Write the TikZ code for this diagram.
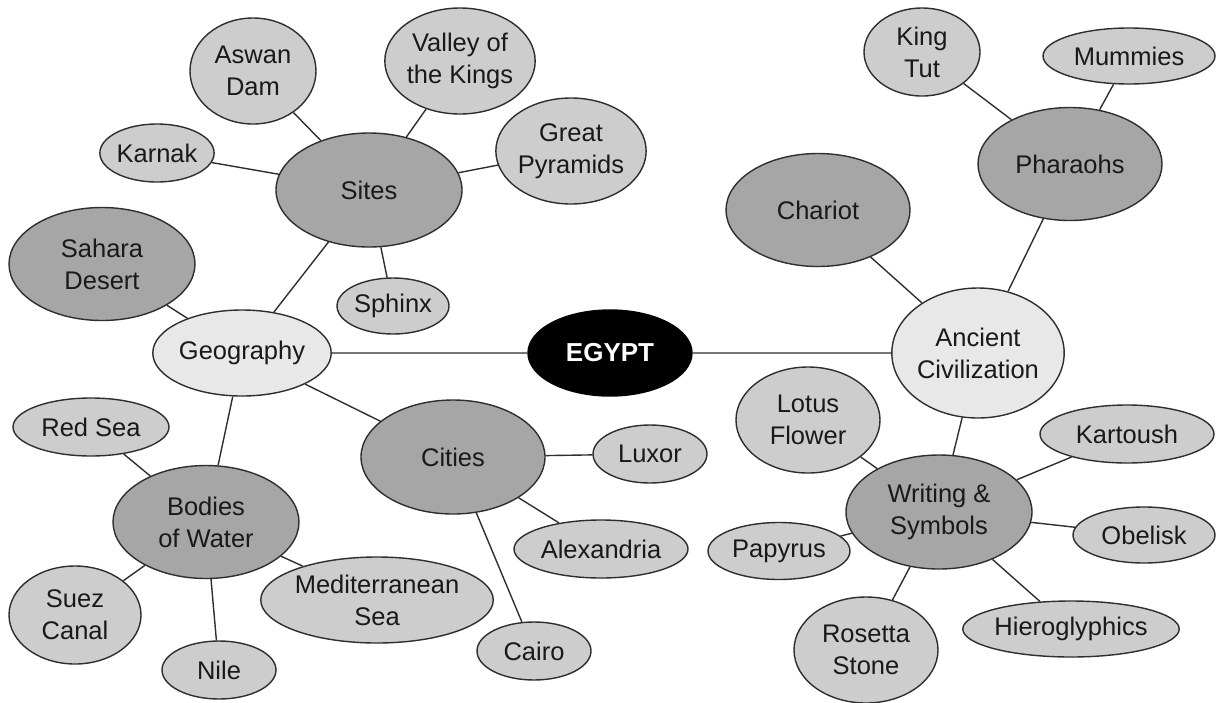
\documentclass[tikz,border=0pt]{standalone}
\usepackage{fontspec}
\setmainfont{Liberation Sans}
\usetikzlibrary{shapes.geometric}
\definecolor{hubdark}{HTML}{A6A6A6}
\definecolor{leafmid}{HTML}{CDCDCD}
\definecolor{branchlight}{HTML}{E8E8E8}
\definecolor{inkline}{HTML}{2E2E2E}
\tikzset{
  bub/.style={ellipse, draw=inkline, line width=1.4pt, inner sep=0pt, align=center,
    text=black!90, font=\fontsize{25.5}{32}\selectfont},
  sz/.style 2 args={minimum width=#1pt, minimum height=#2pt},
  hub/.style={bub, fill=hubdark},
  leaf/.style={bub, fill=leafmid},
  branch/.style={bub, fill=branchlight},
  core/.style={bub, fill=black, draw=black, text=white, font=\fontsize{26}{32}\selectfont\bfseries},
  link/.style={draw=inkline, line width=1.4pt}
}
\begin{document}
\begin{tikzpicture}[x=1pt,y=-1pt]
\useasboundingbox (0,0) rectangle (1218,702);

% centre and main branches
\node[core, sz={164}{86}] (egypt) at (610,353) {EGYPT};
\node[branch, sz={164}{86}] (geo) at (242,353) {Geography};
\node[branch, sz={164}{130}] (anc) at (978,353) {Ancient\\Civilization};

% geography side
\node[hub, sz={186}{114}] (sites) at (369,190) {Sites};
\node[leaf, sz={126}{106}] (aswan) at (253,71) {Aswan\\Dam};
\node[leaf, sz={144}{106}] (valley) at (460,61) {Valley of\\the Kings};
\node[leaf, sz={114}{58}] (karnak) at (157,153) {Karnak};
\node[leaf, sz={142}{106}] (pyr) at (571,151) {Great\\Pyramids};
\node[leaf, sz={112}{56}] (sphinx) at (393,306) {Sphinx};
\node[hub, sz={186}{113}] (sahara) at (102,264) {Sahara\\Desert};

\node[hub, sz={186}{113}] (water) at (206,522) {Bodies\\of Water};
\node[leaf, sz={156}{58}] (red) at (91,427) {Red Sea};
\node[leaf, sz={132}{98}] (suez) at (75,615) {Suez\\Canal};
\node[leaf, sz={114}{58}] (nile) at (219,670) {Nile};
\node[leaf, sz={206}{86}] (med) at (377,600) {Mediterranean\\Sea};

\node[hub, sz={184}{114}] (cities) at (453,457) {Cities};
\node[leaf, sz={114}{58}] (luxor) at (650,454) {Luxor};
\node[leaf, sz={174}{58}] (alex) at (601,549) {Alexandria};
\node[leaf, sz={114}{58}] (cairo) at (534,651) {Cairo};

% ancient civilization side
\node[hub, sz={184}{113}] (chariot) at (818,210) {Chariot};
\node[hub, sz={184}{113}] (phar) at (1070,164) {Pharaohs};
\node[leaf, sz={116}{88}] (tut) at (922,52) {King\\Tut};
\node[leaf, sz={172}{56}] (mumm) at (1129,56) {Mummies};

\node[hub, sz={186}{114}] (write) at (939,512) {Writing \&\\Symbols};
\node[leaf, sz={144}{106}] (lotus) at (808,420) {Lotus\\Flower};
\node[leaf, sz={174}{58}] (kart) at (1127,434) {Kartoush};
\node[leaf, sz={142}{57}] (papy) at (779,551) {Papyrus};
\node[leaf, sz={142}{56}] (obel) at (1144,535) {Obelisk};
\node[leaf, sz={144}{106}] (rose) at (866,650) {Rosetta\\Stone};
\node[leaf, sz={206}{56}] (hiero) at (1071,629) {Hieroglyphics};

% connectors
\path[link]
  (egypt) -- (geo)  (egypt) -- (anc)
  (geo) -- (sites)  (geo) -- (sahara)  (geo) -- (cities)  (geo) -- (water)
  (sites) -- (aswan)  (sites) -- (valley)  (sites) -- (karnak)  (sites) -- (pyr)  (sites) -- (sphinx)
  (water) -- (red)  (water) -- (suez)  (water) -- (nile)  (water) -- (med)
  (cities) -- (luxor)  (cities) -- (alex)  (cities) -- (cairo)
  (anc) -- (chariot)  (anc) -- (phar)  (anc) -- (write)
  (phar) -- (tut)  (phar) -- (mumm)
  (write) -- (lotus)  (write) -- (kart)  (write) -- (papy)  (write) -- (obel)  (write) -- (rose)  (write) -- (hiero);
\end{tikzpicture}
\end{document}
